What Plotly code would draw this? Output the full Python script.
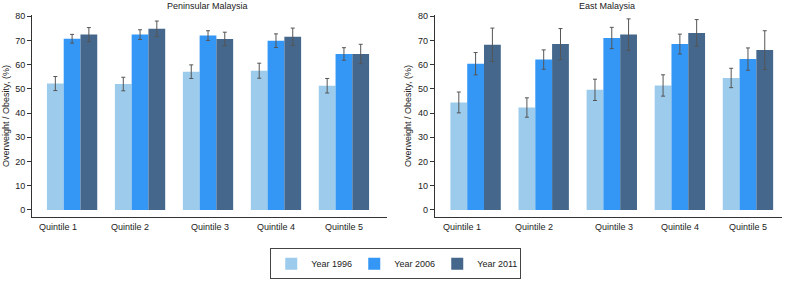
import plotly.graph_objects as go
from plotly.subplots import make_subplots

quintiles = ["Quintile 1", "Quintile 2", "Quintile 3", "Quintile 4", "Quintile 5"]
years = ["Year 1996", "Year 2006", "Year 2011"]

pen_1996 = [52.2, 52.0, 57.1, 57.5, 51.3]
pen_2006 = [70.7, 72.4, 72.0, 69.9, 64.4]
pen_2011 = [72.4, 74.8, 70.6, 71.5, 64.4]
pen_err_1996 = [2.9, 2.8, 2.8, 3.1, 3.0]
pen_err_2006 = [1.8, 2.0, 2.0, 2.8, 2.6]
pen_err_2011 = [2.9, 3.2, 2.8, 3.6, 4.0]

east_1996 = [44.4, 42.3, 49.6, 51.4, 54.5]
east_2006 = [60.4, 62.1, 71.0, 68.5, 62.3]
east_2011 = [68.2, 68.5, 72.4, 73.1, 66.0]
east_err_1996 = [4.3, 4.0, 4.4, 4.4, 4.0]
east_err_2006 = [4.6, 4.0, 4.4, 4.1, 4.6]
east_err_2011 = [6.9, 6.4, 6.5, 5.5, 8.0]

colors = ["#9ccbeb", "#3597f5", "#44678b"]
label_shift = [-14, -10, 2, 0, 0]
FONT = "Liberation Sans, Arial, sans-serif"

fig = make_subplots(rows=1, cols=2, subplot_titles=["Peninsular Malaysia", "East Malaysia"],
                    horizontal_spacing=0.064)

panels = [
    ([pen_1996, pen_2006, pen_2011], [pen_err_1996, pen_err_2006, pen_err_2011]),
    ([east_1996, east_2006, east_2011], [east_err_1996, east_err_2006, east_err_2011]),
]
for col, (vals, errs) in enumerate(panels, start=1):
    for i in range(3):
        fig.add_trace(go.Bar(
            x=quintiles, y=vals[i], name=years[i], marker_color=colors[i],
            marker_line_width=0, showlegend=(col == 1),
            error_y=dict(type="data", array=errs[i], color="#555555", thickness=1, width=2),
        ), row=1, col=col)

fig.update_layout(
    width=790, height=283,
    margin=dict(l=32, r=8, t=15, b=66, autoexpand=False),
    paper_bgcolor="white", plot_bgcolor="white",
    font=dict(family=FONT, size=9, color="#222222"),
    barmode="group", bargap=0.26, bargroupgap=0,
    legend=dict(orientation="h", x=0.485, xanchor="center", y=-0.155, yanchor="top",
                bordercolor="#444444", borderwidth=1, font=dict(size=9),
                itemwidth=30, tracegroupgap=0, entrywidth=38, entrywidthmode="pixels"),
)
fig.update_layout(xaxis=dict(domain=[0, 0.473]), xaxis2=dict(domain=[0.537, 1.0]))

for ax in ["xaxis", "xaxis2"]:
    fig.layout[ax].update(showline=True, linecolor="#333333", linewidth=1, ticks="",
                          showticklabels=False, showgrid=False, zeroline=False, automargin=False,
                          range=[-0.59, 4.63] if ax == "xaxis" else [-0.6, 4.5])
for ax in ["yaxis", "yaxis2"]:
    fig.layout[ax].update(showline=True, linecolor="#333333", linewidth=1, ticks="outside",
                          ticklen=4, tickcolor="#333333", showgrid=False, zeroline=False,
                          automargin=False,
                          range=[-2.9, 80.5], tickvals=list(range(0, 81, 10)),
                          title=dict(text="Overweight / Obesity, (%)", font=dict(size=9), standoff=4),
                          tickfont=dict(size=9))

for ann in fig.layout.annotations:
    ann.font = dict(size=9, family=FONT, color="#222222")
    ann.y = 1.0
    ann.yshift = 2

for xr in ["x", "x2"]:
    for q, s in zip(quintiles, label_shift):
        fig.add_annotation(x=q, xref=xr, y=0, yref="paper", yanchor="top", yshift=-3,
                           xshift=s, text=q, showarrow=False, font=dict(size=9))

fig.write_html("out.html", config={"displayModeBar": False},
               post_script="document.body.style.margin='0';document.body.style.overflow='hidden';")
